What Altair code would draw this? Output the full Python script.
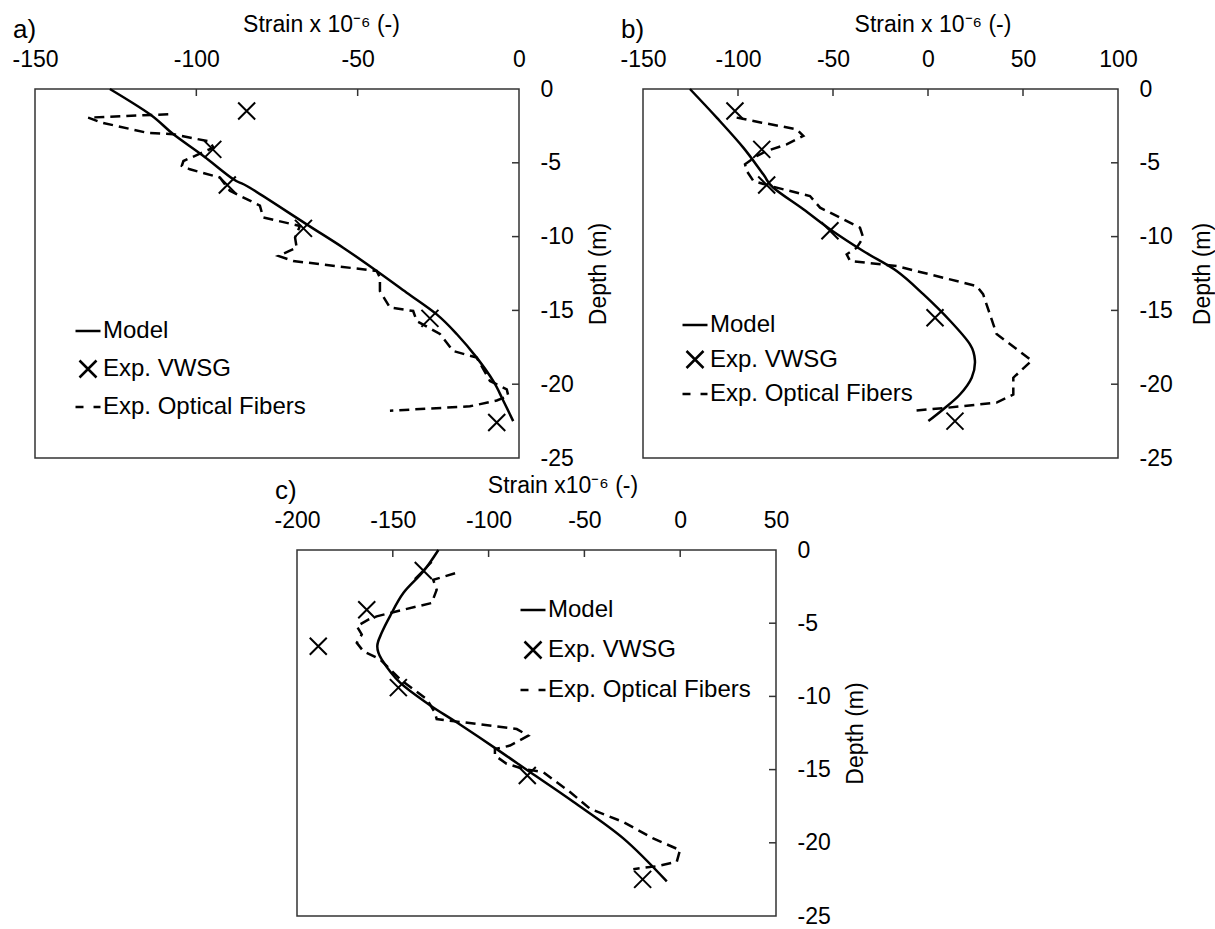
import altair as alt
import pandas as pd

FONT = "Liberation Sans"
SERIES = ["Model", "Exp. VWSG", "Exp. Optical Fibers"]
SHAPES = ["M-1.47,0H1.47", "M-1,-1L1,1M-1,1L1,-1", "M-1.47,0H-0.53M0.65,0H1.47"]
DEPTH_TICKS = [0, -5, -10, -15, -20, -25]

# ---------------- panel a ----------------
a_model_strain = [-126.8, -114.4, -107.1, -97.8, -88.5, -83.4, -65.8, -54.5, -44.1, -34.8, -25.5, -19.3, -13.1, -8.0, -4.9, -1.8]
a_model_depth = [0, -1.71, -3.07, -4.54, -6.12, -6.69, -9.17, -10.75, -12.33, -13.8, -15.27, -16.6, -18.2, -19.78, -21.1, -22.5]
a_vwsg_strain = [-84.4, -94.9, -90.4, -66.8, -27.6, -6.9]
a_vwsg_depth = [-1.49, -4.09, -6.5, -9.44, -15.54, -22.6]
a_fib_strain = [-108.7, -133.5, -129.3, -115.4, -107.1, -95.8, -94.7, -104.0, -104.5, -102.0, -92.7, -89.6, -80.3, -79.3, -67.9, -69.4, -68.9, -74.6, -70.0, -44.1, -43.1, -43.1, -40.0, -32.8, -31.7, -24.5, -20.4, -13.1, -9.0, -3.8, -3.3, -6.9, -15.2, -40.0]
a_fib_depth = [-1.71, -1.94, -2.28, -2.96, -3.07, -3.56, -3.97, -4.88, -5.2, -5.44, -6.0, -6.9, -7.9, -8.7, -9.28, -10.07, -10.75, -11.31, -11.65, -12.33, -12.78, -13.69, -14.8, -15.04, -15.72, -16.6, -17.75, -18.2, -19.78, -20.35, -20.8, -21.1, -21.5, -21.8]
a_xticks = [-150, -100, -50, 0]

# ---------------- panel b ----------------
b_model_strain = [-125.3, -111.2, -97.2, -86.7, -81.4, -65.6, -51.6, -34.1, -16.5, -2.5, 11.6, 22.1, 24.7, 23.0, 16.8, 8.05, 0.2]
b_model_depth = [0, -1.94, -3.97, -5.78, -6.69, -8.15, -9.5, -10.98, -12.33, -13.9, -15.7, -17.3, -18.4, -19.56, -20.7, -21.7, -22.5]
b_vwsg_strain = [-101.6, -87.5, -84.9, -51.6, 3.7, 14.2]
b_vwsg_depth = [-1.49, -4.09, -6.5, -9.6, -15.5, -22.5]
b_fib_strain = [-100.7, -87.5, -69.1, -65.6, -74.4, -84.9, -90.2, -96.3, -95.4, -91.9, -83.1, -62.1, -56.8, -35.8, -34.1, -37.5, -42.8, -41.0, -16.5, 25.6, 29.0, 32.6, 36.1, 54.6, 44.9, 44.9, 36.1, 9.8, -7.8]
b_fib_depth = [-1.94, -2.28, -2.73, -3.18, -3.75, -4.2, -4.54, -5.1, -5.56, -6.23, -6.57, -7.25, -8.04, -9.4, -10.07, -10.75, -11.2, -11.65, -12.0, -13.35, -13.9, -15.27, -16.6, -18.4, -19.56, -20.7, -21.25, -21.6, -21.8]
b_xticks = [-150, -100, -50, 0, 50, 100]

# ---------------- panel c ----------------
c_model_strain = [-126.2, -134.1, -144.5, -151.5, -155.8, -158.1, -155.8, -146.2, -130.6, -116.7, -95.8, -78.4, -55.8, -29.7, -7.0]
c_model_depth = [0, -1.47, -2.94, -4.53, -5.66, -6.57, -7.47, -9.06, -10.6, -11.77, -13.6, -15.17, -17.2, -19.7, -22.64]
c_vwsg_strain = [-134.1, -163.6, -188.9, -147.1, -79.8, -19.6]
c_vwsg_depth = [-1.4, -4.08, -6.57, -9.4, -15.4, -22.5]
c_fib_strain = [-117.5, -128.9, -127.1, -129.7, -144.5, -158.4, -162.8, -168.8, -166.2, -168.8, -165.4, -156.7, -146.2, -132.3, -128.0, -127.1, -113.2, -85.3, -79.3, -88.8, -96.7, -96.7, -90.6, -81.9, -71.5, -57.5, -47.1, -29.7, -14.1, -0.1, -1.8, -12.3, -24.5]
c_fib_depth = [-1.59, -2.04, -2.72, -3.62, -4.08, -4.53, -4.76, -5.21, -5.77, -6.34, -6.91, -7.47, -8.83, -10.19, -11.1, -11.55, -11.77, -12.23, -12.68, -13.36, -13.6, -14.04, -14.6, -14.95, -15.17, -16.53, -17.67, -18.58, -19.7, -20.5, -21.3, -21.6, -21.8]
c_xticks = [-200, -150, -100, -50, 0, 50]


def line_df(s, d):
    return pd.DataFrame({"strain": s, "depth": d, "i": list(range(len(s)))})


def panel(letter, xtitle, model, vwsg, fib, xdomain, xticks, width, height,
          xtitle_dx, ytitle_x, legend_x, legend_y, row_pad):
    xs = alt.Scale(domain=xdomain, nice=False, zero=False)
    ys = alt.Scale(domain=[-25, 0], nice=False, zero=False)
    x_axis = alt.Axis(orient="top", values=xticks, title=xtitle, labelExpr="'' + datum.value",
                      tickSize=0, domain=False, grid=False, labelPadding=23,
                      labelBaseline="alphabetic", labelFlush=False, labelOverlap=False,
                      titleX=width / 2 + xtitle_dx, titleY=-58, titleBaseline="alphabetic",
                      titleAlign="center")
    y_axis = alt.Axis(orient="right", values=DEPTH_TICKS, title="Depth (m)", labelExpr="'' + datum.value",
                      tickSize=0, domain=False, grid=False, labelPadding=21, labelAlign="left",
                      labelBaseline="middle", labelFlush=False, labelOverlap=False,
                      titleAngle=270, titleX=ytitle_x, titleY=height / 2, titleBaseline="middle",
                      titleAlign="center")
    X = alt.X("strain:Q", scale=xs, axis=x_axis)
    Y = alt.Y("depth:Q", scale=ys, axis=y_axis)
    fib_layer = alt.Chart(line_df(*fib)).mark_line(color="black", strokeWidth=2.5, strokeDash=[10, 6]).encode(
        x=X, y=Y, order="i:Q")
    model_layer = alt.Chart(line_df(*model)).mark_line(color="black", strokeWidth=2.5, interpolate="cardinal").encode(
        x=X, y=Y, order="i:Q")
    vdf = pd.DataFrame({"strain": vwsg[0], "depth": vwsg[1], "series": ["Exp. VWSG"] * len(vwsg[0])})
    vwsg_layer = alt.Chart(vdf).mark_point(filled=False, color="black", strokeWidth=2, size=289, opacity=1).encode(
        x=X, y=Y,
        shape=alt.Shape("series:N", scale=alt.Scale(domain=SERIES, range=SHAPES),
                        legend=alt.Legend(title=None, orient="none", legendX=legend_x, legendY=legend_y,
                                          labelFontSize=24, labelFont=FONT, labelColor="black",
                                          symbolSize=289, symbolStrokeWidth=2.5, symbolStrokeColor="black",
                                          symbolFillColor="transparent", rowPadding=row_pad,
                                          labelOffset=3, padding=0, direction="vertical")),
    )
    xt = alt.Chart(pd.DataFrame({"strain": xticks[1:-1]})).mark_rule(color="#333333", strokeWidth=1.5).encode(
        x=X, y=alt.value(0), y2=alt.value(7))
    yt = alt.Chart(pd.DataFrame({"depth": DEPTH_TICKS[1:-1]})).mark_rule(color="#333333", strokeWidth=1.5).encode(
        y=Y, x=alt.value(width - 7), x2=alt.value(width))
    return alt.layer(fib_layer, model_layer, vwsg_layer, xt, yt).properties(
        width=width, height=height,
        title=alt.TitleParams(letter, anchor="start", frame="group", fontSize=26, font=FONT,
                              fontWeight="normal", color="black", dx=-22, dy=34),
    )


pa = panel("a)", "Strain x 10⁻⁶ (-)", (a_model_strain, a_model_depth), (a_vwsg_strain, a_vwsg_depth),
           (a_fib_strain, a_fib_depth), [-150, 0], a_xticks, 484, 369, 44, 79, 41, 230, 12)
pb = panel("b)", "Strain x 10⁻⁶ (-)", (b_model_strain, b_model_depth), (b_vwsg_strain, b_vwsg_depth),
           (b_fib_strain, b_fib_depth), [-150, 100], b_xticks, 475, 369, 52, 84, 40, 224, 8.5)
pc = panel("c)", "Strain x10⁻⁶ (-)", (c_model_strain, c_model_depth), (c_vwsg_strain, c_vwsg_depth),
           (c_fib_strain, c_fib_depth), [-200, 50], c_xticks, 479, 366, 26, 79, 224, 48, 14)

spacer = alt.Chart(pd.DataFrame({"v": [0]})).mark_point(opacity=0).encode(
    x=alt.value(5), y=alt.value(5)).properties(width=252, height=20,
                                               view=alt.ViewBackground(stroke="transparent"))

top = alt.hconcat(pa, pb, spacing=124, bounds="flush").resolve_scale(shape="independent").resolve_legend(shape="independent")
bottom = alt.hconcat(spacer, pc, spacing=10, bounds="flush").resolve_scale(shape="independent").resolve_legend(shape="independent")

chart = alt.vconcat(top, bottom, spacing=2).resolve_scale(shape="independent").resolve_legend(
    shape="independent").properties(
    padding={"left": 11, "top": 12, "right": 0, "bottom": 0}, background="white"
).configure_view(stroke="#333333", strokeWidth=1.5).configure_axis(
    labelFont=FONT, titleFont=FONT, labelFontSize=23, titleFontSize=23, labelColor="black",
    titleColor="black", titleFontWeight="normal"
).configure_legend(labelLimit=400)

chart.save("out.html", embed_options={"renderer": "svg", "actions": False})
